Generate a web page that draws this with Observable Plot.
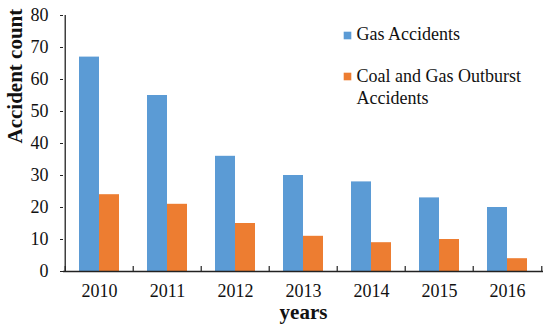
<!DOCTYPE html>
<html><head><meta charset="utf-8">
<script src="https://cdn.jsdelivr.net/npm/d3@7"></script>
<script src="https://cdn.jsdelivr.net/npm/@observablehq/plot@0.6"></script>
<style>body{margin:0;background:#fff} svg, svg text{font-family:"Liberation Serif","Times New Roman",serif !important}</style>
</head><body><div id="chart"></div>
<script>
const years = ["2010","2011","2012","2013","2014","2015","2016"];
const gasAccidents = [67, 55, 36, 30, 28, 23, 20];
const outburstAccidents = [24, 21, 15, 11, 9, 10, 4];
const seriesNames = ["Gas Accidents", "Coal and Gas Outburst\nAccidents"];
const seriesColors = ["#5B9BD5", "#ED7D31"];
const yTicks = [0,10,20,30,40,50,60,70,80];
const yTitle = "Accident count";
const xTitle = "years";

const W = 550, H = 331, ML = 63, MR = 7, MT = 15, MB = 60;
const step = (W - ML - MR) / years.length;
const gasData = years.map((y, i) => ({year: y, value: gasAccidents[i]}));
const outData = years.map((y, i) => ({year: y, value: outburstAccidents[i]}));
const FF = "Liberation Serif";

const chart = Plot.plot({
  width: W, height: H,
  marginLeft: ML, marginRight: MR, marginTop: MT, marginBottom: MB,
  style: {fontFamily: FF, fontSize: "18px", background: "#fff", color: "#111"},
  x: {type: "band", domain: years, paddingInner: 1 - 40/step, paddingOuter: (1 - 40/step)/2, align: 0.5, axis: null},
  y: {domain: [0, 80], axis: null},
  marks: [
    Plot.barY(gasData, {x: "year", y: "value", fill: seriesColors[0], insetRight: 20}),
    Plot.barY(outData, {x: "year", y: "value", fill: seriesColors[1], insetLeft: 20}),
    Plot.ruleY([0], {stroke: "#222", strokeWidth: 1.3}),
    Plot.ruleX([years[0]], {y1: 0, y2: 80, dx: -step/2, stroke: "#222", strokeWidth: 1.3}),
    Plot.ruleX(years, {x: d => d, y1: 0, y2: 0, insetTop: -5, dx: -step/2, stroke: "#222", strokeWidth: 1.2}),
    Plot.ruleX([years[years.length-1]], {x: d => d, y1: 0, y2: 0, insetTop: -5, dx: step/2, stroke: "#222", strokeWidth: 1.2}),
    Plot.axisY({ticks: yTicks, tickSize: 3, tickPadding: 12, label: null, fontSize: 18, fontFamily: FF, stroke: "#222"}),
    Plot.axisX({ticks: years, tickSize: 0, tickPadding: 13, label: null, fontSize: 18, fontFamily: FF}),
    Plot.text([yTitle], {frameAnchor: "left", rotate: -90, dx: -48, fontWeight: "bold", fontSize: 21, fontFamily: FF}),
    Plot.text([xTitle], {frameAnchor: "bottom", dy: 47, fontWeight: "bold", fontSize: 21, fontFamily: FF}),
    Plot.dot([seriesNames[0]], {frameAnchor: "top-left", dx: 284, dy: 20, symbol: "square", r: 4.3, fill: seriesColors[0], stroke: null}),
    Plot.dot([seriesNames[1]], {frameAnchor: "top-left", dx: 284, dy: 61, symbol: "square", r: 4.3, fill: seriesColors[1], stroke: null}),
    Plot.text([seriesNames[0]], {frameAnchor: "top-left", dx: 293, dy: 12, textAnchor: "start", lineAnchor: "top", fontSize: 18, fontFamily: FF}),
    Plot.text([seriesNames[1]], {frameAnchor: "top-left", dx: 293, dy: 52, textAnchor: "start", lineAnchor: "top", fontSize: 18, lineHeight: 1.17, fontFamily: FF})
  ]
});
document.getElementById("chart").appendChild(chart);
</script>
</body></html>
